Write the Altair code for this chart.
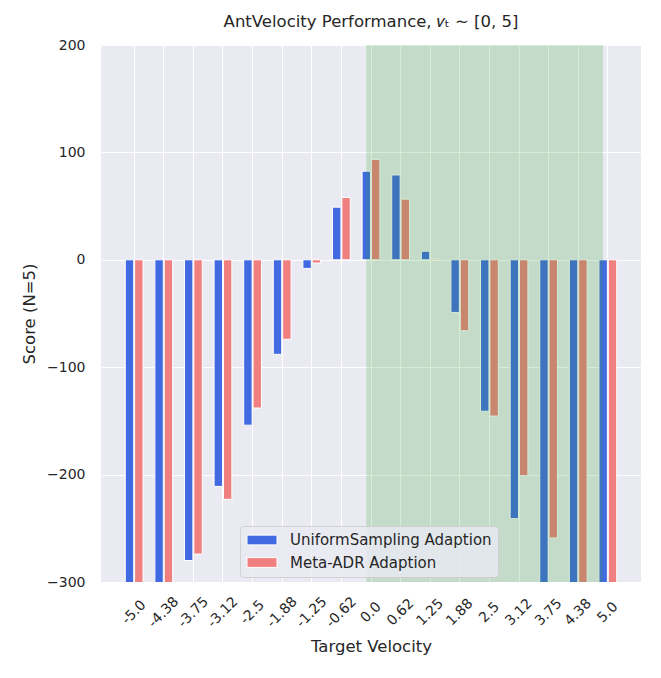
import altair as alt
import pandas as pd

# ---- data ----
velocities = ["-5.0", "-4.38", "-3.75", "-3.12", "-2.5", "-1.88", "-1.25", "-0.62",
              "0.0", "0.62", "1.25", "1.88", "2.5", "3.12", "3.75", "4.38", "5.0"]
uniform_scores = [-340, -335, -280, -211, -154, -88, -8, 49, 82.5, 79, 8, -49,
                  -141, -241, -320, -345, -350]
metaadr_scores = [-345, -330, -274, -223, -138, -74, -3, 58, 93.5, 56.5, 1, -66,
                  -145.5, -201, -259, -340, -355]
series_names = ["UniformSampling Adaption", "Meta-ADR Adaption"]
series_colors = ["#4169E1", "#F08080"]
train_range = ["0.0", "5.0"]
y_ticks = [-300, -200, -100, 0, 100, 200]

rows = []
for v, u, m in zip(velocities, uniform_scores, metaadr_scores):
    rows.append({"velocity": v, "series": series_names[0], "score": u})
    rows.append({"velocity": v, "series": series_names[1], "score": m})
df = pd.DataFrame(rows)
span_df = pd.DataFrame({"start": [train_range[0]], "end": [train_range[1]]})

TEXT = "#262626"
FONT = "DejaVu Sans"

x_scale = alt.Scale(domain=velocities, paddingInner=0.4, paddingOuter=0.82)

bars = alt.Chart(df).mark_bar(stroke="white", strokeWidth=1, clip=True).encode(
    x=alt.X("velocity:N", scale=x_scale, sort=velocities,
            axis=alt.Axis(title="Target Velocity", labelAngle=315, labelAlign="center",
                          labelBaseline="middle", labelPadding=30, ticks=False, tickSize=0,
                          domain=False, bandPosition=0.5, grid=True, gridColor="white",
                          gridWidth=1, labelFontSize=14, labelColor=TEXT,
                          titleFontSize=16.5, titleFontWeight="normal", titleColor=TEXT,
                          titlePadding=9)),
    xOffset=alt.XOffset("series:N", sort=series_names,
                        scale=alt.Scale(domain=series_names, paddingInner=0.1)),
    y=alt.Y("score:Q", scale=alt.Scale(domain=[-300, 200], nice=False, zero=False),
            axis=alt.Axis(title="Score (N=5)", values=y_ticks,
                          labelExpr="replace(datum.label, '-', '−')",
                          ticks=False, tickSize=0, domain=False, grid=True,
                          gridColor="white", gridWidth=1, labelFontSize=14,
                          labelColor=TEXT, labelPadding=16, titleFontSize=16.5,
                          titleFontWeight="normal", titleColor=TEXT, titlePadding=9)),
    color=alt.Color("series:N", sort=series_names,
                    scale=alt.Scale(domain=series_names, range=series_colors),
                    legend=alt.Legend(title=None, orient="none", legendX=139, legendY=481,
                                      fillColor="rgba(234,234,242,0.8)",
                                      strokeColor="rgba(204,204,204,0.8)", cornerRadius=3,
                                      padding=6, rowPadding=6.5, labelFontSize=15,
                                      labelColor=TEXT, labelOffset=20, labelLimit=0,
                                      symbolType="M-2,-0.65L2,-0.65L2,0.65L-2,0.65Z",
                                      symbolSize=225, symbolOffset=8,
                                      symbolStrokeColor="white",
                                      symbolStrokeWidth=1, symbolOpacity=1)),
)

span = alt.Chart(span_df).mark_rect(color="#2ca02c", opacity=0.2).encode(
    x=alt.X("start:N", scale=x_scale, bandPosition=0.23, title="Target Velocity"),
    x2=alt.X2("end:N", bandPosition=0.23),
)

chart = alt.layer(bars, span).properties(
    width=540, height=537,
    title=alt.TitleParams("AntVelocity Performance, 𝑣ₜ ∼ [0, 5]", fontSize=16.5,
                          fontWeight="normal", color=TEXT, font=FONT, offset=8),
    padding={"left": 13, "top": 5, "right": 5, "bottom": 5},
).configure(font=FONT).configure_view(fill="#EAEAF2", stroke=None)

chart.save("out.html", embed_options={"renderer": "svg", "actions": False})
